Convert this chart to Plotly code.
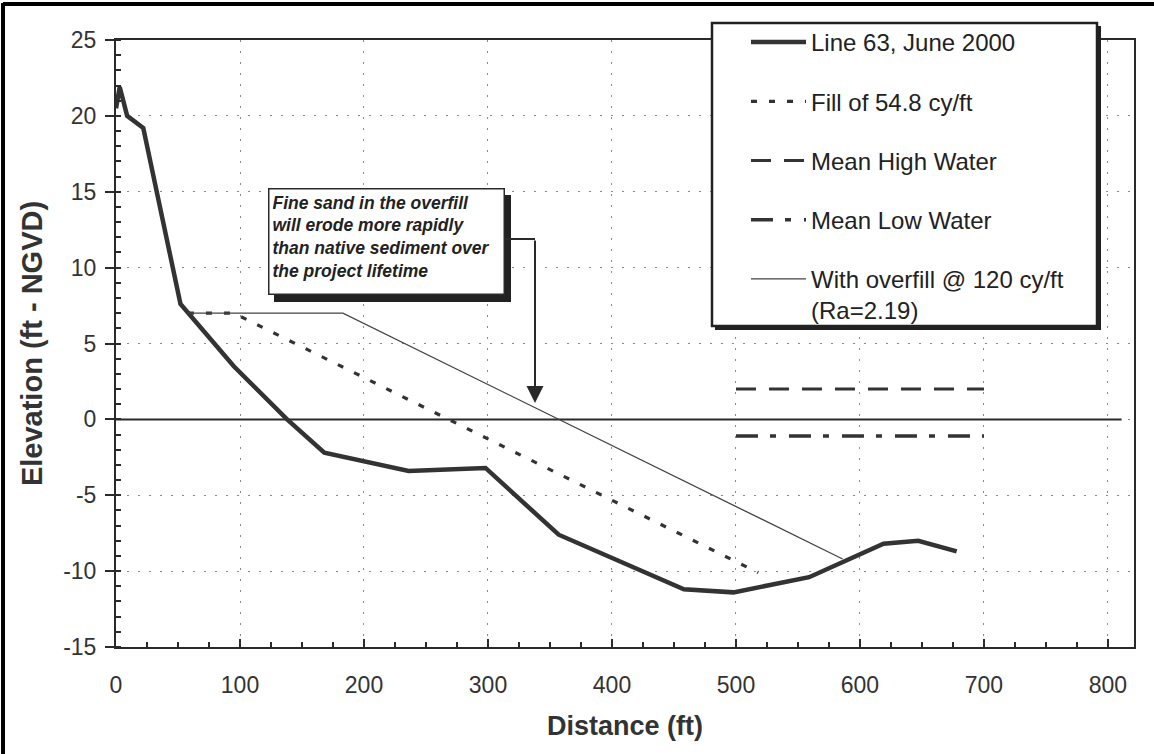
import plotly.graph_objects as go

# ---------------- data ----------------
line63_x = [0, 3, 9, 22, 52, 95, 138, 168, 236, 298, 357, 458, 498, 559, 619, 647, 678]
line63_y = [20.5, 21.9, 20.0, 19.2, 7.6, 3.5, 0.0, -2.2, -3.4, -3.2, -7.6, -11.2, -11.4, -10.4, -8.2, -8.0, -8.7]

fill_x = [58, 95, 518]
fill_y = [7.0, 7.0, -10.1]

mhw_x = [500, 700]
mhw_y = [2.0, 2.0]

mlw_x = [500, 700]
mlw_y = [-1.1, -1.1]

overfill_x = [58, 183, 586]
overfill_y = [7.0, 7.0, -9.2]

datum_x = [0, 811]
datum_y = [0.0, 0.0]

legend_names = [
    "Line 63, June 2000",
    "Fill of 54.8 cy/ft",
    "Mean High Water",
    "Mean Low Water",
    "With overfill @ 120 cy/ft<br>(Ra=2.19)",
]

x_tick_vals = [0, 100, 200, 300, 400, 500, 600, 700, 800]
x_tick_text = ["0", "100", "200", "300", "400", "500", "600", "700", "800"]
y_tick_vals = [-15, -10, -5, 0, 5, 10, 15, 20, 25]
y_tick_text = ["-15", "-10", "-5", "0", "5", "10", "15", "20", "25"]

x_range = [0, 821]
y_range = [-15, 25]
note_text = ("<b><i>Fine sand in the overfill<br>will erode more rapidly<br>"
             "than native sediment over<br>the project lifetime</i></b>")

# ---------------- geometry helpers ----------------
W, H = 1154, 754
ML, MR, MT, MB = 116, 20, 40, 107
PW, PH = W - ML - MR, H - MT - MB


def px_x(p):
    return (p - ML) / PW


def px_y(p):
    return (H - MB - p) / PH


def dx(p):
    return x_range[0] + (p - ML) / PW * (x_range[1] - x_range[0])


def dy(p):
    return y_range[1] - (p - MT) / PH * (y_range[1] - y_range[0])


INK = "#2a2a2a"
FONT = "Liberation Sans, Arial, sans-serif"

fig = go.Figure()

fig.add_trace(go.Scatter(x=datum_x, y=datum_y, mode="lines", showlegend=False,
                         line=dict(color=INK, width=2), hoverinfo="skip"))
fig.add_trace(go.Scatter(x=line63_x, y=line63_y, mode="lines", name=legend_names[0],
                         legendgroup="a", line=dict(color="#333333", width=4.5)))
fig.add_trace(go.Scatter(x=fill_x, y=fill_y, mode="lines", name=legend_names[1],
                         legendgroup="b", line=dict(color="#333333", width=3.2, dash="6px,12px")))
fig.add_trace(go.Scatter(x=mhw_x, y=mhw_y, mode="lines", name=legend_names[2],
                         legendgroup="c", line=dict(color="#333333", width=3, dash="20px,13px")))
fig.add_trace(go.Scatter(x=mlw_x, y=mlw_y, mode="lines", name=legend_names[3],
                         legendgroup="d", line=dict(color="#333333", width=3.5,
                                                    dash="22px,12px,6px,13px")))
fig.add_trace(go.Scatter(x=overfill_x, y=overfill_y, mode="lines", name=legend_names[4],
                         legendgroup="e", line=dict(color="#444444", width=1.3)))

shapes = []
# outer scan border (left and top)
shapes.append(dict(type="line", xref="paper", yref="paper", x0=px_x(3), x1=px_x(3),
                   y0=px_y(H), y1=px_y(3), line=dict(color="black", width=4), layer="above"))
shapes.append(dict(type="line", xref="paper", yref="paper", x0=px_x(3), x1=px_x(W),
                   y0=px_y(4), y1=px_y(4), line=dict(color="black", width=4), layer="above"))
# legend box with shadow
shapes.append(dict(type="rect", xref="paper", yref="paper", x0=px_x(715), x1=px_x(1101),
                   y0=px_y(330), y1=px_y(26), fillcolor="#222222", line=dict(width=0), layer="above"))
shapes.append(dict(type="rect", xref="paper", yref="paper", x0=px_x(712), x1=px_x(1097),
                   y0=px_y(326), y1=px_y(23), fillcolor="white",
                   line=dict(color="#222222", width=2.5), layer="above"))
# note box shadow
shapes.append(dict(type="rect", xref="x", yref="y", x0=dx(274), x1=dx(511),
                   y0=dy(302), y1=dy(195), fillcolor="#222222", line=dict(width=0), layer="above"))
# leader line from note box to arrow
shapes.append(dict(type="line", xref="x", yref="y", x0=dx(505), x1=dx(535),
                   y0=dy(239), y1=dy(239), line=dict(color=INK, width=2), layer="above"))

annotations = []
annotations.append(dict(
    x=dx((268 + 505) / 2), y=dy((188 + 295) / 2), xref="x", yref="y",
    text=note_text, showarrow=False, align="left", valign="top",
    width=237 - 9, height=107 - 9, xanchor="center", yanchor="middle",
    bgcolor="white", bordercolor=INK, borderwidth=1.5, borderpad=3,
    font=dict(family=FONT, size=17.5, color="#222222")))
annotations.append(dict(
    x=dx(535), y=dy(403), ax=dx(535), ay=dy(239), xref="x", yref="y",
    axref="x", ayref="y", text="", showarrow=True, arrowhead=2, arrowsize=1.7,
    arrowwidth=2, arrowcolor=INK))

fig.update_layout(
    width=W, height=H,
    margin=dict(l=ML, r=MR, t=MT, b=MB, autoexpand=False),
    paper_bgcolor="white", plot_bgcolor="white",
    font=dict(family=FONT, color="#222222"),
    shapes=shapes, annotations=annotations,
    showlegend=True,
    legend=dict(x=px_x(746), y=px_y(20), xanchor="left", yanchor="top",
                bgcolor="rgba(0,0,0,0)", borderwidth=0, valign="top",
                font=dict(family=FONT, size=24, color="#222222"),
                itemwidth=55, tracegroupgap=25, traceorder="grouped"),
    xaxis=dict(range=x_range, tickmode="array", tickvals=x_tick_vals, ticktext=x_tick_text,
               showgrid=True, gridcolor="#8a8a8a", griddash="2px,9px", gridwidth=1,
               showline=True, linecolor=INK, linewidth=2, mirror=True,
               ticks="inside", ticklen=8, tickwidth=1.5, tickcolor=INK,
               minor=dict(dtick=25, tick0=0, ticks="inside", ticklen=5, tickwidth=1.5,
                          tickcolor=INK, showgrid=False),
               zeroline=False, ticklabelstandoff=16, automargin=False,
               tickfont=dict(family=FONT, size=23, color="#333333"),
               title=dict(text="<b>Distance (ft)</b>", standoff=20,
                          font=dict(family=FONT, size=27, color="#333333"))),
    yaxis=dict(range=y_range, tickmode="array", tickvals=y_tick_vals, ticktext=y_tick_text,
               showgrid=True, gridcolor="#8a8a8a", griddash="2px,9px", gridwidth=1,
               showline=True, linecolor=INK, linewidth=2, mirror=True,
               ticks="outside", ticklen=9, tickwidth=1.5, tickcolor=INK,
               minor=dict(dtick=1, tick0=0, ticks="inside", ticklen=5, tickwidth=1.5,
                          tickcolor=INK, showgrid=False),
               zeroline=False, ticklabelstandoff=4, automargin=False,
               tickfont=dict(family=FONT, size=23, color="#333333"),
               title=dict(text="<b>Elevation (ft - NGVD)</b>", standoff=12,
                          font=dict(family=FONT, size=29, color="#333333"))),
)

fig.write_html("out.html", config={"displayModeBar": False},
               post_script="document.body.style.margin='0';"
                           "document.body.style.overflow='hidden';")
